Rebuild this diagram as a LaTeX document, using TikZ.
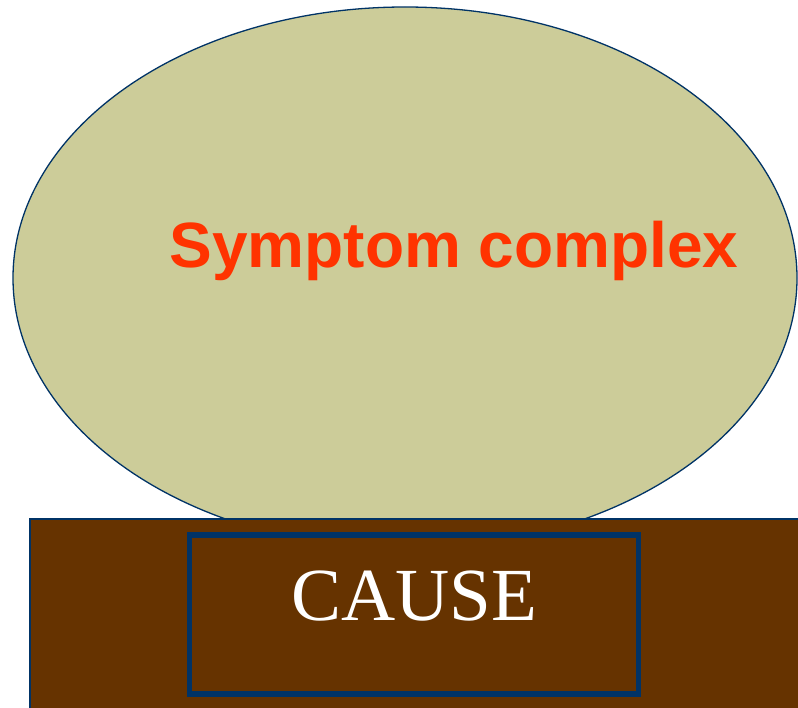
\documentclass[tikz,border=0pt]{standalone}
\usepackage{fontspec}
\setmainfont{Liberation Serif}
\newfontfamily\labelfont{Liberation Sans}
\usetikzlibrary{calc,shapes.geometric}
\definecolor{sage}{HTML}{CCCC99}
\definecolor{navyline}{HTML}{003366}
\definecolor{earth}{HTML}{663300}
\definecolor{flame}{HTML}{FF3300}

\begin{document}
\begin{tikzpicture}[x=1pt,y=-1pt,
        blob/.style={ellipse,draw=navyline,line width=1.3pt,fill=sage,
            minimum width=784pt,minimum height=542pt,inner sep=0pt},
        ground/.style={draw=navyline,line width=1.3pt,fill=earth},
        frame/.style={rectangle,draw=navyline,line width=5.5pt,
            minimum width=449pt,minimum height=159pt,inner sep=0pt}]
                \useasboundingbox (0,0) rectangle (798,708);
                \clip (0,0) rectangle (798,708);
                \node[blob] (complex) at (405,278) {};
                \draw[ground] (30,519) rectangle (815,725);
                \node[frame] (causebox) at (414,614.5) {};
                \node[anchor=base,text=flame,inner sep=0pt,
                    font=\labelfont\bfseries\fontsize{64}{70}\selectfont]
                    (symptom) at (454,268) {Symptom complex};
                \node[anchor=base,text=white,inner sep=0pt,
                    font=\fontsize{75}{80}\selectfont]
                    (cause) at (414,620) {CAUSE};
            \end{tikzpicture}
\end{document}
